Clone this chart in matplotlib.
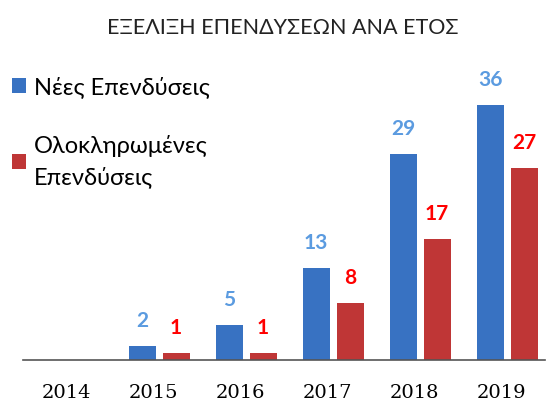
import matplotlib
matplotlib.use("Agg")
import matplotlib.pyplot as plt
import numpy as np

years = ["2014", "2015", "2016", "2017", "2018", "2019"]
new_inv = [0, 2, 5, 13, 29, 36]
completed_inv = [0, 1, 1, 8, 17, 27]
new_label = "Νέες Επενδύσεις"
comp_label = "Ολοκληρωμένες\nΕπενδύσεις"
title = "ΕΞΕΛΙΞΗ ΕΠΕΝΔΥΣΕΩΝ ΑΝΑ ΕΤΟΣ"

sans = ["Lato", "Noto Sans", "DejaVu Sans"]
serif = ["DejaVu Serif"]

fig = plt.figure(figsize=(5.49, 4.01), dpi=100)
ax = fig.add_axes([23/549, 0.102, 522/549, 0.708])

x = np.arange(len(years))
w = 0.31
blue = "#3872c2"
red = "#bf3636"
b1 = ax.bar(x - 0.13, new_inv, w, color=blue, label=new_label)
b2 = ax.bar(x + 0.26, completed_inv, w, color=red, label=comp_label)

for xi, v in zip(x, new_inv):
    if v > 0:
        ax.annotate(str(v), (xi - 0.13, v), xytext=(0, 18), textcoords="offset points",
                    ha="center", va="center", fontsize=15, fontweight="bold",
                    color="#5b9be0", family=sans)
for xi, v in zip(x, completed_inv):
    if v > 0:
        ax.annotate(str(v), (xi + 0.26, v), xytext=(0, 18), textcoords="offset points",
                    ha="center", va="center", fontsize=15, fontweight="bold",
                    color="#ff0000", family=sans)

ax.set_xlim(-0.5, 5.5)
ax.set_ylim(0, 40)
ax.set_xticks(x)
ax.set_xticklabels(years, family=serif, fontsize=14)
ax.tick_params(axis="x", length=0, pad=17)
ax.set_yticks([])
for s in ["top", "right", "left"]:
    ax.spines[s].set_visible(False)
ax.spines["bottom"].set_color("#555555")
ax.spines["bottom"].set_linewidth(1.2)

leg = ax.legend(loc="upper left", bbox_to_anchor=(-0.062, 1.075), frameon=False,
                prop={"family": sans, "size": 17}, handlelength=0.6, handleheight=0.6,
                handletextpad=0.35, labelspacing=1.55)
leg.get_texts()[1].set_linespacing(1.5)

fig.text(0.515, 0.93, title, ha="center", va="center", fontsize=15.5,
         family=sans, color="#222222")

fig.savefig("out.png", dpi=100)
